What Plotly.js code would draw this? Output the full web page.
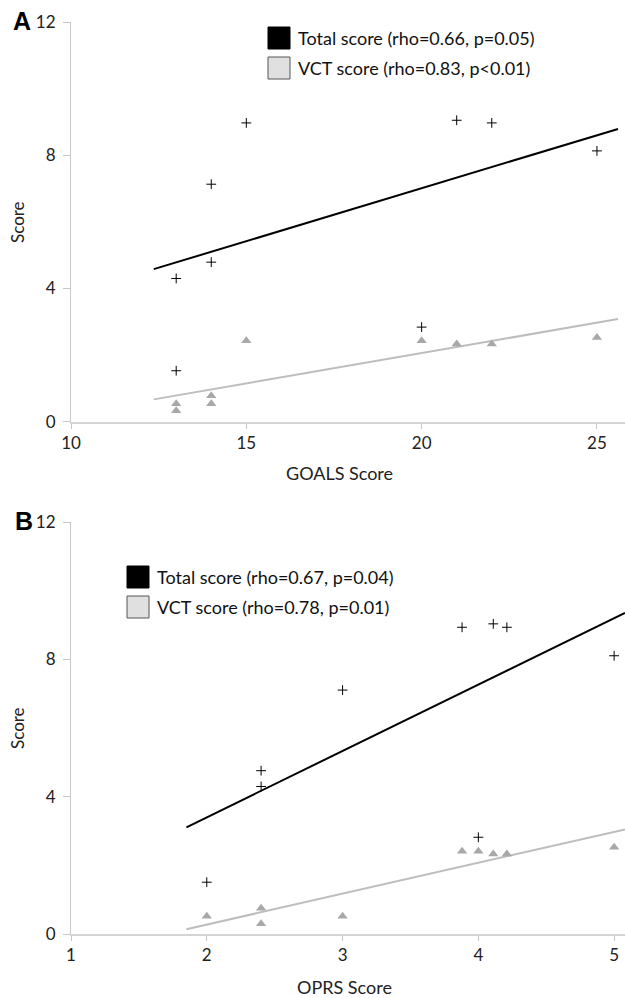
<!DOCTYPE html>
<html>
<head>
<meta charset="utf-8">
<script src="https://cdn.plot.ly/plotly-3.0.1.min.js"></script>
<style>
  html, body { margin: 0; padding: 0; background: #fff; }
  #chart { width: 625px; height: 998px; }
</style>
</head>
<body>
<div id="chart"></div>
<script>
// ---- Data ----
// Panel A: GOALS score
const goalsTotalX = [13, 13, 14, 14, 15, 20, 21, 22, 25];
const goalsTotalY = [4.30, 1.53, 4.79, 7.13, 8.97, 2.84, 9.05, 8.97, 8.13];
const goalsVctX = [13, 13, 14, 14, 15, 20, 21, 22, 25];
const goalsVctY = [0.54, 0.33, 0.78, 0.54, 2.43, 2.43, 2.33, 2.33, 2.53];
const goalsTotalFitX = [12.36, 25.6];
const goalsTotalFitY = [4.58, 8.79];
const goalsVctFitX = [12.36, 25.6];
const goalsVctFitY = [0.67, 3.08];

// Panel B: OPRS score
const oprsTotalX = [2, 2.4, 2.4, 3, 3.88, 4.11, 4.21, 4, 5];
const oprsTotalY = [1.51, 4.30, 4.76, 7.11, 8.94, 9.04, 8.94, 2.82, 8.11];
const oprsVctX = [2, 2.4, 2.4, 3, 3.88, 4, 4.11, 4.21, 5];
const oprsVctY = [0.52, 0.75, 0.30, 0.52, 2.41, 2.41, 2.33, 2.33, 2.53];
const oprsTotalFitX = [1.85, 5.08];
const oprsTotalFitY = [3.11, 9.36];
const oprsVctFitX = [1.85, 5.08];
const oprsVctFitY = [0.14, 3.05];

const goalsTicks = [10, 15, 20, 25];
const oprsTicks = [1, 2, 3, 4, 5];
const scoreTicks = [0, 4, 8, 12];

const legendA = ['Total score (rho=0.66, p=0.05)', 'VCT score (rho=0.83, p<0.01)'];
const legendB = ['Total score (rho=0.67, p=0.04)', 'VCT score (rho=0.78, p=0.01)'];

// ---- Styling ----
const FONT = 'Lato, "Open Sans", sans-serif';
const W = 625, H = 998, ML = 71, MR = 0, MT = 22, MB = 64;
const PW = W - ML - MR, PH = H - MT - MB;
const px = x => (x - ML) / PW;
const py = y => (H - MB - y) / PH;

const crossMarker = { symbol: 'cross-thin', size: 7, color: '#000', line: { color: '#000', width: 1 } };
const triMarker = { symbol: 'triangle-up', size: 9, color: '#a8a8a8' };

function pts(x, y, xa, ya, marker) {
  return { type: 'scatter', mode: 'markers', x: x, y: y, xaxis: xa, yaxis: ya,
           marker: marker, showlegend: false, hoverinfo: 'x+y', cliponaxis: false };
}
function fit(x, y, xa, ya, color) {
  return { type: 'scatter', mode: 'lines', x: x, y: y, xaxis: xa, yaxis: ya,
           line: { color: color, width: 2 }, showlegend: false, hoverinfo: 'skip' };
}

const traces = [
  fit(goalsTotalFitX, goalsTotalFitY, 'x', 'y', '#000'),
  fit(goalsVctFitX, goalsVctFitY, 'x', 'y', '#bdbdbd'),
  pts(goalsVctX, goalsVctY, 'x', 'y', triMarker),
  pts(goalsTotalX, goalsTotalY, 'x', 'y', crossMarker),
  fit(oprsTotalFitX, oprsTotalFitY, 'x2', 'y2', '#000'),
  fit(oprsVctFitX, oprsVctFitY, 'x2', 'y2', '#bdbdbd'),
  pts(oprsVctX, oprsVctY, 'x2', 'y2', triMarker),
  pts(oprsTotalX, oprsTotalY, 'x2', 'y2', crossMarker)
];

const tickFont = { family: FONT, size: 17, color: '#222' };
function xAxis(range, ticks, anchor) {
  return { range: range, tickmode: 'array', tickvals: ticks, ticktext: ticks.map(String),
           showline: true, linecolor: '#d4d4d4', linewidth: 2, ticks: 'outside', ticklen: 5,
           tickcolor: '#c8c8c8', tickwidth: 1, showgrid: false, zeroline: false,
           tickfont: tickFont, anchor: anchor, domain: [0, 1], fixedrange: true };
}
function yAxis(domain, anchor) {
  return { range: [0, 12], tickmode: 'array', tickvals: scoreTicks, ticktext: scoreTicks.map(String),
           showline: true, linecolor: '#c8c8c8', linewidth: 1, ticks: 'outside', ticklen: 7,
           tickcolor: '#c8c8c8', tickwidth: 1, showgrid: false, zeroline: false,
           tickfont: tickFont, ticklabelstandoff: 4, anchor: anchor, domain: domain, fixedrange: true };
}

const shapes = [];
const annotations = [];
function legend(x0, y0, labels) {
  // two boxes, 22px square, rows 30px apart
  const rows = [{ fill: '#000', line: '#000' }, { fill: '#e0e0e0', line: '#555' }];
  rows.forEach((r, i) => {
    const top = y0 + i * 30;
    shapes.push({ type: 'rect', xref: 'paper', yref: 'paper',
      x0: px(x0), x1: px(x0 + 22), y0: py(top + 22), y1: py(top),
      fillcolor: r.fill, line: { color: r.line, width: 1 } });
    annotations.push({ xref: 'paper', yref: 'paper', x: px(x0 + 28), y: py(top + 11),
      xanchor: 'left', yanchor: 'middle', showarrow: false, text: labels[i],
      font: { family: FONT, size: 18, color: '#111' } });
  });
}
legend(268, 27, legendA);
legend(127, 566, legendB);

function label(text, x, y, opts) {
  annotations.push(Object.assign({ xref: 'paper', yref: 'paper', x: px(x), y: py(y),
    xanchor: 'center', yanchor: 'middle', showarrow: false, text: text,
    font: { family: FONT, size: 17, color: '#222' } }, opts || {}));
}
// panel letters
label('<b>A</b>', 22, 21, { font: { family: 'Liberation Sans, Arial, sans-serif', size: 25, color: '#000' } });
label('<b>B</b>', 24, 521, { font: { family: 'Liberation Sans, Arial, sans-serif', size: 25, color: '#000' } });
// axis titles
label('GOALS Score', 339, 473, { font: { family: FONT, size: 18, color: '#222' } });
label('OPRS Score', 344, 987, { font: { family: FONT, size: 18, color: '#222' } });
label('Score', 17, 222, { textangle: -90 });
label('Score', 17, 728, { textangle: -90 });

const layout = {
  width: W, height: H,
  margin: { l: ML, r: MR, t: MT, b: MB, pad: 0 },
  paper_bgcolor: '#fff', plot_bgcolor: '#fff',
  showlegend: false,
  font: { family: FONT },
  xaxis: xAxis([10, 25.8], goalsTicks, 'y'),
  yaxis: yAxis([py(421.7), 1], 'x'),
  xaxis2: xAxis([1, 5.08], oprsTicks, 'y2'),
  yaxis2: yAxis([0, py(522.3)], 'x2'),
  shapes: shapes,
  annotations: annotations
};

Plotly.newPlot('chart', traces, layout, { displayModeBar: false, staticPlot: true });
</script>
</body>
</html>
